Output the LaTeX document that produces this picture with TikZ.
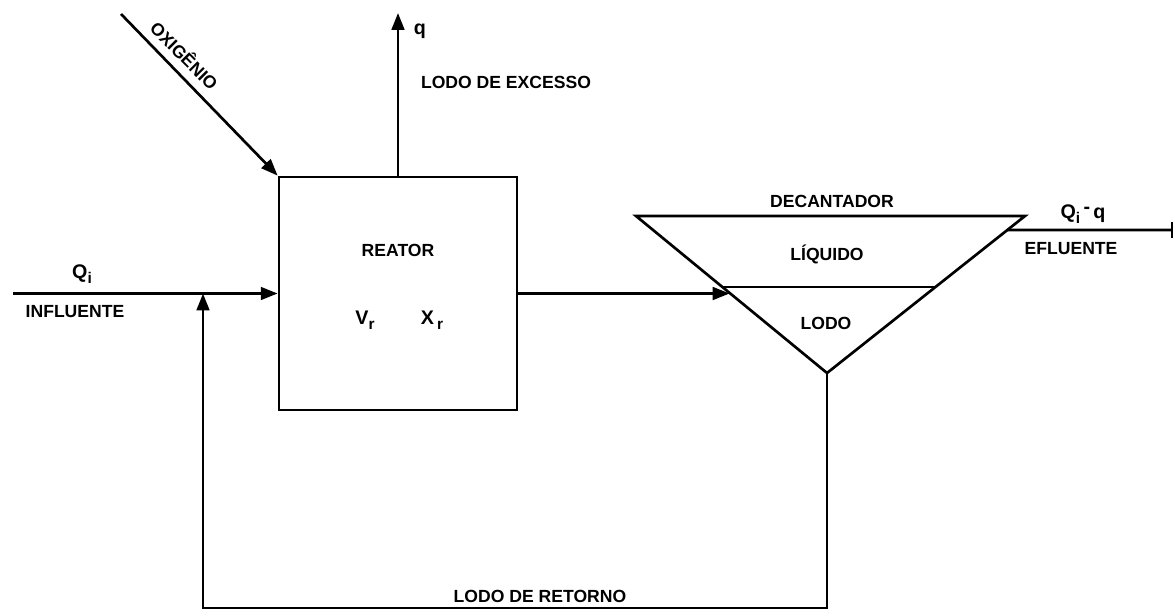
\documentclass[tikz,border=0pt]{standalone}
\usepackage{fontspec}
\setmainfont{Liberation Sans}
\usetikzlibrary{arrows.meta,calc}
\newcommand{\lowidx}[1]{\raisebox{-0.5ex}{\fontsize{11}{12}\selectfont #1}}
\tikzset{
  lbl/.style={font=\fontsize{12.5}{14}\selectfont\bfseries, inner sep=1pt},
  big/.style={font=\fontsize{14}{16}\selectfont\bfseries, inner sep=1pt},
  pipe/.style={line width=1.9pt},
  flow/.style={pipe, -{Triangle[length=12pt,width=9pt]}},
}
\begin{document}
\begin{tikzpicture}[x=0.025cm,y=-0.025cm]
    \useasboundingbox (0,0) rectangle (1174,611);

    % reator
    \node[pipe,draw,minimum width=5.95cm,minimum height=5.825cm,inner sep=0] (reator) at (398,293.5) {};
    \node[lbl] (lreator) at (398,250) {REATOR};
    \node[big] (lvr) at (365,320) {V\lowidx{r}};
    \node[big] (lxr) at (432,320) {X\,\lowidx{r}};

    % decantador
    \coordinate (dtl) at (636,216);
    \coordinate (dtr) at (1025,216);
    \coordinate (dbot) at (827,373);
    \draw[pipe,line join=miter] (dtl) -- (dtr) -- (dbot) -- cycle;
    \coordinate (nivL) at ($(dtl)!0.452!(dbot)$);
    \coordinate (nivR) at ($(dtr)!0.452!(dbot)$);
    \draw[pipe] (nivL) -- (nivR);
    \coordinate (entD) at ($(dtl)!0.49!(dbot)$);
    \node[lbl] (ldec) at (832,201) {DECANTADOR};
    \node[lbl] (lliq) at (827,254) {LÍQUIDO};
    \node[lbl] (llodo) at (826,323) {LODO};

    % oxigenio e lodo de excesso
    \coordinate (oxi) at (121,14);
    \draw[flow] (oxi) -- (reator.north west);
    \node[lbl,rotate=-45] (loxi) at (185,55) {OXIGÊNIO};
    \coordinate (exc) at (398,13);
    \draw[flow] (reator.north) -- (exc);
    \node[big] (lq) at (420,31) {q};
    \node[lbl] (lexc) at (506,82) {LODO DE EXCESSO};

    % influente
    \coordinate (inf) at (13,293.5);
    \draw[flow] (inf) -- (reator.west);
    \node[big] (lqi) at (82,274) {Q\lowidx{i}};
    \node[lbl] (linf) at (75,312) {INFLUENTE};

    % reator -> decantador
    \draw[flow] (reator.east) -- (reator.east -| entD);

    % efluente
    \coordinate (saiD) at ($(dtr)!0.089!(dbot)$);
    \coordinate (efl) at (1172,230);
    \draw[pipe] (saiD) -- (efl);
    \draw[pipe] ($(efl)+(0,-8)$) -- ($(efl)+(0,8)$);
    \node[big] (lqs) at (1083,214) {Q\lowidx{i}\,\raisebox{.5ex}{-}\,q};
    \node[lbl] (lefl) at (1071,249) {EFLUENTE};

    % retorno
    \coordinate (ret) at (203,608);
    \draw[flow] (dbot) -- (dbot |- ret) -- (ret) -- (ret |- reator.west);
    \node[lbl] (lret) at (540,596) {LODO DE RETORNO};
\end{tikzpicture}
\end{document}
